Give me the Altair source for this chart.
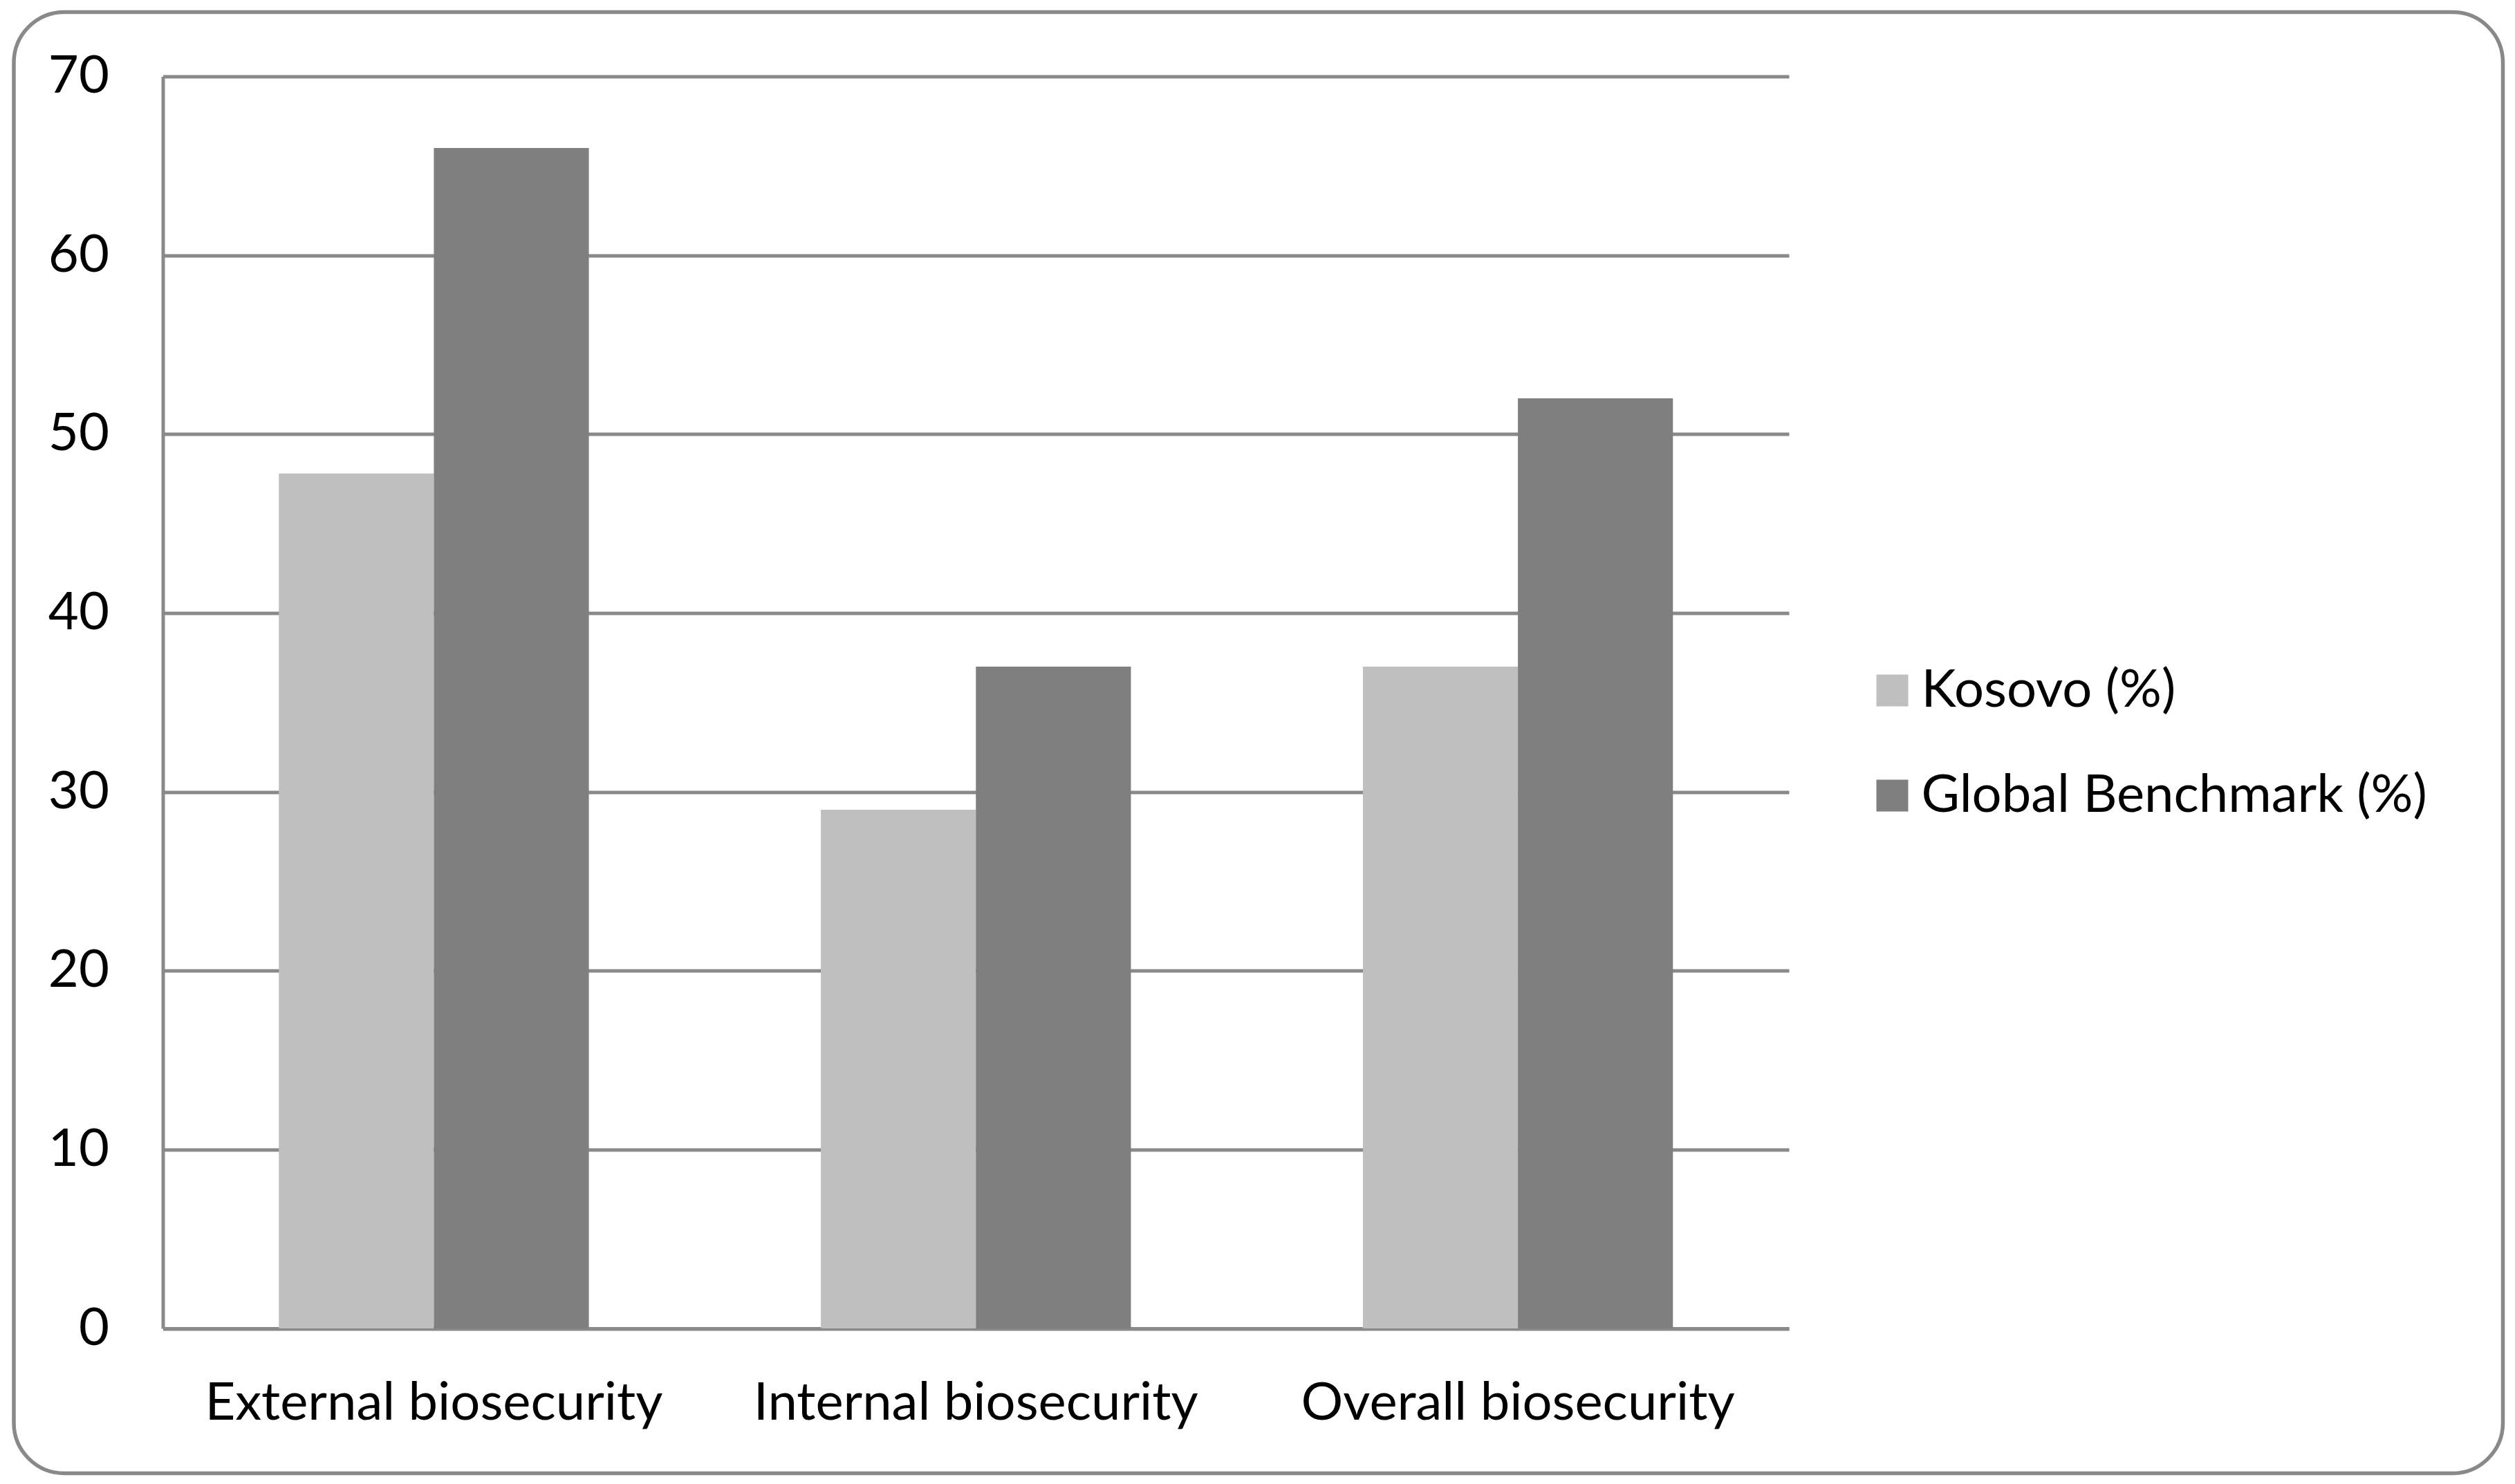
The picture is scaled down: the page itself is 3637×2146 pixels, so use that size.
import altair as alt
import pandas as pd

# ---- data ----
categories = ["External biosecurity", "Internal biosecurity", "Overall biosecurity"]
series = ["Kosovo (%)", "Global Benchmark (%)"]
kosovo = [47.8, 29, 37]
global_benchmark = [66, 37, 52]
y_ticks = [0, 10, 20, 30, 40, 50, 60, 70]
colors = ["#BFBFBF", "#7F7F7F"]

rows = []
for c, k, g in zip(categories, kosovo, global_benchmark):
    rows.append({"category": c, "series": series[0], "value": k})
    rows.append({"category": c, "series": series[1], "value": g})
df = pd.DataFrame(rows)

FONT = "Lato"
FS = 76
GRAY = "#898989"
W = 2351.5
H = 1810.5

bars = alt.Chart(df).mark_bar(strokeWidth=0).encode(
    x=alt.X(
        "category:N",
        sort=categories,
        scale=alt.Scale(paddingInner=0.428, paddingOuter=0.214),
        axis=alt.Axis(
            title=None, ticks=False, domainColor=GRAY, domainWidth=5,
            labelFont=FONT, labelFontSize=FS, labelColor="black",
            labelAngle=0, labelPadding=131, labelBaseline="alphabetic",
            labelLimit=2000,
        ),
    ),
    xOffset=alt.XOffset("series:N", sort=series,
                        scale=alt.Scale(domain=series, paddingInner=0, paddingOuter=0)),
    y=alt.Y(
        "value:Q",
        scale=alt.Scale(domain=[0, 70], nice=False),
        axis=alt.Axis(
            title=None, values=y_ticks, ticks=False, grid=True,
            gridColor=GRAY, gridWidth=5, domainColor=GRAY, domainWidth=5,
            labelFont=FONT, labelFontSize=FS, labelColor="black", labelPadding=78,
        ),
    ),
    color=alt.Color(
        "series:N",
        sort=series,
        scale=alt.Scale(domain=series, range=colors),
        legend=alt.Legend(
            title=None, orient="none", legendX=2463, legendY=850,
            symbolType="square", symbolSize=2116, symbolStrokeWidth=0,
            symbolOpacity=1,
            labelFont=FONT, labelFontSize=FS, labelColor="black",
            labelOffset=4, rowPadding=76, labelLimit=2000,
        ),
    ),
)

border = alt.Chart(alt.Data(values=[{"a": 1}])).mark_rect(
    fill="transparent", stroke=GRAY, strokeWidth=5.5, cornerRadius=73
).encode(
    x=alt.value(-215.5), x2=alt.value(3384),
    y=alt.value(-93), y2=alt.value(2020),
)

chart = alt.layer(border, bars).properties(
    width=W,
    height=H,
    autosize=alt.AutoSizeParams(type="none"),
    padding={"left": 227.5, "top": 102.5, "right": 1042, "bottom": 217},
    background="white",
).configure_view(stroke=None)

chart.save("out.html", embed_options={"renderer": "svg", "actions": False})
